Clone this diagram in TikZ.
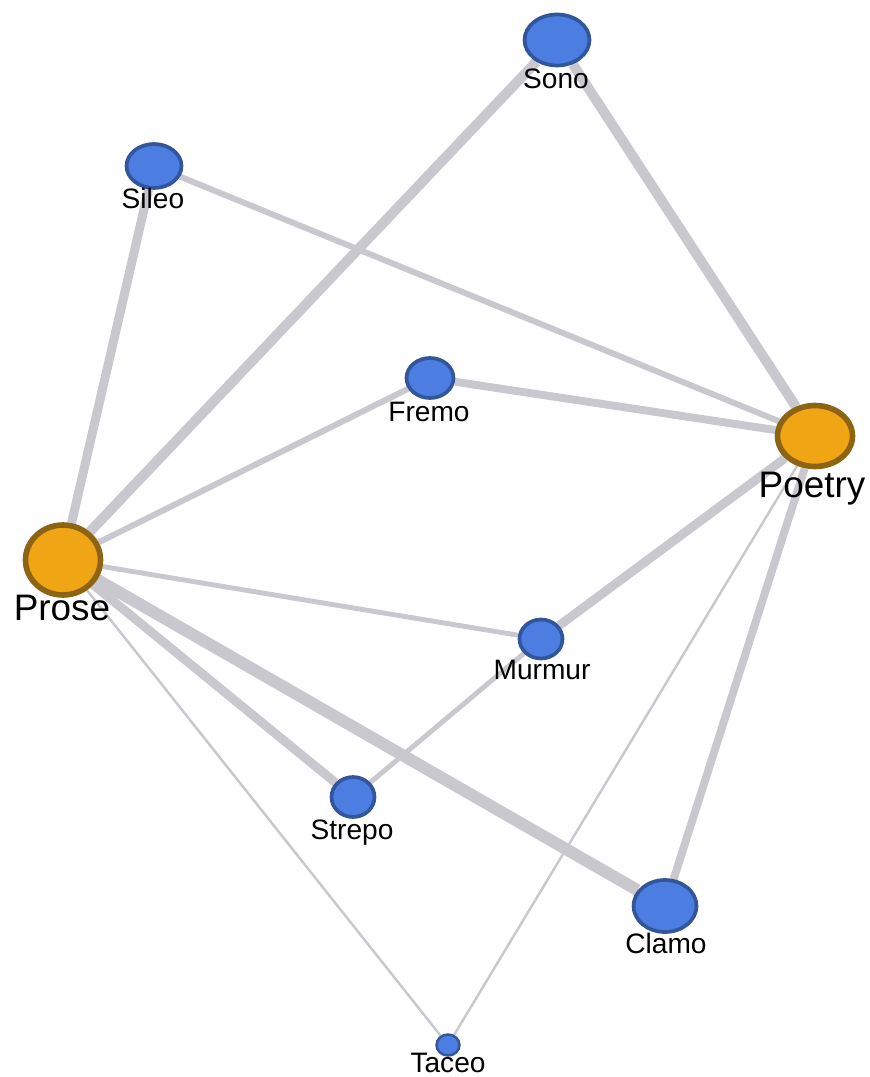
\documentclass[tikz,border=0pt]{standalone}
\usepackage{fontspec}
\setmainfont{Liberation Sans}
\usetikzlibrary{shapes.geometric}
\pgfdeclarelayer{bg}
\pgfsetlayers{bg,main}
\definecolor{wordblue}{HTML}{4C7DE0}
\definecolor{wordrim}{HTML}{33559B}
\definecolor{genrefill}{HTML}{F0A514}
\definecolor{genrerim}{HTML}{8C6414}
\definecolor{linkgray}{HTML}{C8C8CE}
\begin{document}
\begin{tikzpicture}[x=0.02cm, y=-0.02cm,
    word/.style={ellipse, draw=wordrim, fill=wordblue, line width=2.1pt, inner sep=0pt},
    genre/.style={ellipse, draw=genrerim, fill=genrefill, line width=3.2pt, inner sep=0pt},
    lbl/.style={anchor=base, font=\fontsize{16}{16}\selectfont},
    biglbl/.style={anchor=base, font=\fontsize{21}{21}\selectfont},
    link/.style={draw=linkgray}]
      \useasboundingbox (0, 0) rectangle (869, 1077);
      % nodes
      \node (sono) [word, minimum width=1.3cm, minimum height=1.02cm] at (557, 40) {};
      \node (sileo) [word, minimum width=1.1cm, minimum height=0.88cm] at (154, 166) {};
      \node (fremo) [word, minimum width=0.94cm, minimum height=0.8cm] at (430, 378) {};
      \node (murmur) [word, minimum width=0.86cm, minimum height=0.78cm] at (541, 639) {};
      \node (strepo) [word, minimum width=0.86cm, minimum height=0.8cm] at (353, 797) {};
      \node (clamo) [word, minimum width=1.26cm, minimum height=1.04cm] at (665, 906) {};
      \node (taceo) [word, line width=1.4pt, minimum width=0.46cm, minimum height=0.42cm] at (448, 1045) {};
      \node (poetry) [genre, minimum width=1.5cm, minimum height=1.22cm] at (815, 436) {};
      \node (prose) [genre, minimum width=1.5cm, minimum height=1.4cm] at (63, 560) {};
      % labels
      \node (sono-l) [lbl] at (556, 89) {Sono};
      \node (sileo-l) [lbl] at (153, 209) {Sileo};
      \node (fremo-l) [lbl] at (429, 421) {Fremo};
      \node (murmur-l) [lbl] at (542, 679) {Murmur};
      \node (strepo-l) [lbl] at (352, 839) {Strepo};
      \node (clamo-l) [lbl] at (666, 953) {Clamo};
      \node (taceo-l) [lbl] at (448, 1072) {Taceo};
      \node (poetry-l) [biglbl] at (812, 497) {Poetry};
      \node (prose-l) [biglbl] at (62, 620) {Prose};
      % links
      \begin{pgfonlayer}{bg}
      \draw [link] (prose) edge [line width=5.1pt] (sileo)
                   (prose) edge [line width=5.7pt] (sono)
                   (prose) edge [line width=3.4pt] (fremo)
                   (prose) edge [line width=2.8pt] (murmur)
                   (prose) edge [line width=5.1pt] (strepo)
                   (prose) edge [line width=6.8pt] (clamo)
                   (prose) edge [line width=1.4pt] (taceo);
      \draw [link] (poetry) edge [line width=3.4pt] (sileo)
                   (poetry) edge [line width=5.7pt] (sono)
                   (poetry) edge [line width=4.5pt] (fremo)
                   (poetry) edge [line width=5.1pt] (murmur)
                   (poetry) edge [line width=4.5pt] (clamo)
                   (poetry) edge [line width=1.4pt] (taceo)
                   (murmur) edge [line width=2.8pt] (strepo);
      \end{pgfonlayer}
\end{tikzpicture}
\end{document}
